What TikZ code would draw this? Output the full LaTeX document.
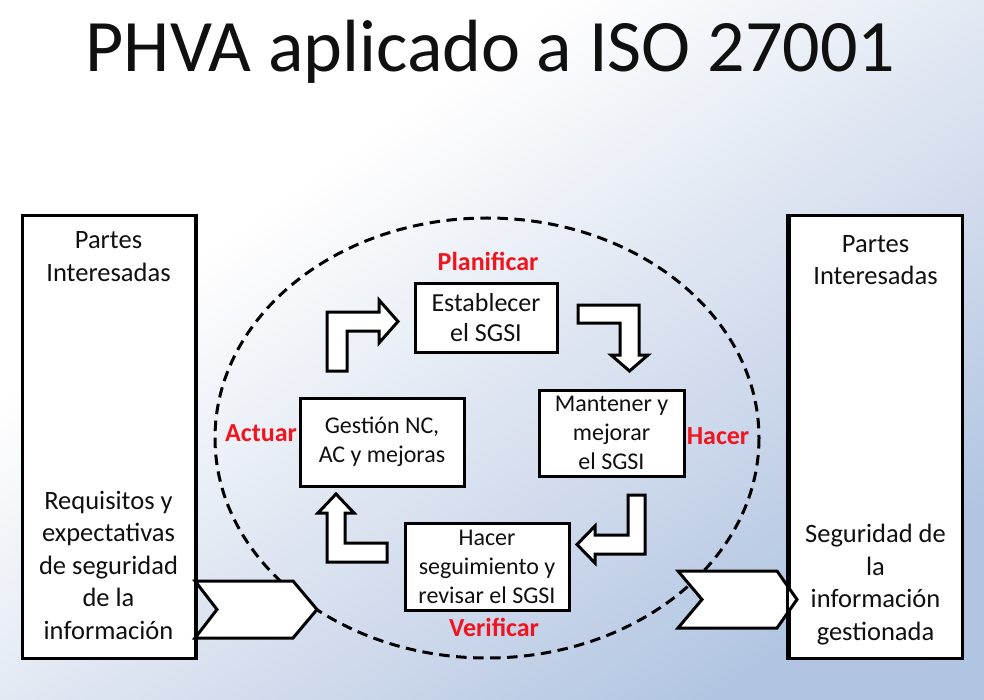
\documentclass[tikz,border=0pt]{standalone}
\usepackage{fontspec}
\setmainfont{Carlito}
\definecolor{labelred}{RGB}{240,20,30}
\definecolor{inktext}{RGB}{16,16,16}
\begin{document}
\begin{tikzpicture}[x=1pt,y=-1pt,
  frame/.style={draw=black, line width=3pt, fill=white},
  sidebox/.style={frame, inner sep=0pt, minimum width=173pt, minimum height=442pt},
  stagebox/.style={frame, inner sep=0pt, align=center, text=inktext,
    font=\fontsize{24}{29}\selectfont},
  sidetext/.style={align=center, text=inktext, font=\fontsize{26.5}{32.5}\selectfont},
  phase/.style={text=labelred, font=\fontsize{26}{30}\selectfont\bfseries},
  blockarrow/.style={draw=black, line width=3pt, fill=white, line join=miter},
  ring/.style={draw=black, line width=3pt, dash pattern=on 10.5pt off 6.5pt}
]
\useasboundingbox (0,0) rectangle (984,700);

% diagonal background wash, white at the upper left to pale blue at the lower right
\begin{scope}
  \clip (0,0) rectangle (984,700);
  \begin{scope}[rotate=-54.57]
    \foreach \i in {0,...,119}{
      \pgfmathsetmacro\u{\i*10+5}
      \pgfmathsetmacro\ca{max(0,min(1,(\u-330)/240))}
      \pgfmathsetmacro\cb{max(0,min(1,(\u-570)/230))}
      \pgfmathsetmacro\cc{max(0,min(1,(\u-800)/180))}
      \pgfmathsetmacro\cd{max(0,min(1,(\u-980)/200))}
      \pgfmathtruncatemacro\rch{255-27*\ca-27*\cb-23*\cc-2*\cd}
      \pgfmathtruncatemacro\gch{255-21*\ca-21*\cb-15*\cc-1*\cd}
      \pgfmathtruncatemacro\bch{255-11*\ca-10*\cb-7*\cc-1*\cd}
      \definecolor{stripcol}{RGB}{\rch,\gch,\bch}
      \fill[stripcol] (\i*10,-1600) rectangle (\i*10+11,1600);
    }
  \end{scope}
\end{scope}

% title
\node[anchor=base, text=inktext, font=\fontsize{74}{80}\selectfont] (title)
  at (490.5,72) {PHVA aplicado a ISO 27001};

% dashed cycle
\draw[ring] (487,438) ellipse [x radius=272, y radius=220];

% stakeholder boxes
\node[sidebox] (lbox) at (108.5,437) {};
\node[sidebox] (rbox) at (875.5,437) {};

% input and output chevrons
\draw[blockarrow] (195,581) -- (293,581) -- (317,609.5) -- (293,638) -- (195,638) -- (217,609.5) -- cycle;
\draw[blockarrow] (678,571) -- (777,571) -- (797,599.5) -- (777,628) -- (678,628) -- (702,599.5) -- cycle;
\draw[line width=3pt] (lbox.north east) -- (lbox.south east);
\draw[line width=3pt] (rbox.north west) -- (rbox.south west);

\node[sidetext] (ltop) at (108.5,256.5) {Partes\\Interesadas};
\node[sidetext] (lbot) at (108.5,565) {Requisitos y\\expectativas\\de seguridad\\de la\\información};
\node[sidetext] (rtop) at (875.5,260) {Partes\\Interesadas};
\node[sidetext] (rbot) at (875.5,584.5) {Seguridad de\\la\\información\\gestionada};

% the four stages
\node[stagebox, minimum width=142pt, minimum height=68pt, font=\fontsize{26}{30}\selectfont]
  (plan) at (486,318) {Establecer\\el SGSI};
\node[stagebox, minimum width=145pt, minimum height=86pt] (do) at (611.5,433) {Mantener y\\mejorar\\el SGSI};
\node[stagebox, minimum width=164pt, minimum height=87pt] (check) at (487,566.5) {Hacer\\seguimiento y\\revisar el SGSI};
\node[stagebox, minimum width=164pt, minimum height=88pt] (act) at (382,442) {Gestión NC,\\AC y mejoras};

% bent block arrows between the stages
\draw[blockarrow] (327,371) -- (327,312) -- (379,312) -- (379,300) -- (398,321.5)
  -- (379,343) -- (379,331) -- (347,331) -- (347,371) -- cycle;
\draw[blockarrow] (578,305) -- (639,305) -- (639,355) -- (648,355) -- (629.5,371)
  -- (611,355) -- (620,355) -- (620,323) -- (578,323) -- cycle;
\draw[blockarrow] (628,495) -- (645,495) -- (645,554) -- (595,554) -- (595,563)
  -- (577,544.5) -- (595,526) -- (595,535) -- (628,535) -- cycle;
\draw[blockarrow] (387,543) -- (387,562) -- (327,562) -- (327,513) -- (318,513)
  -- (336,494) -- (354,513) -- (345,513) -- (345,543) -- cycle;

% phase labels
\node[phase] (lplan) at (488,261) {Planificar};
\node[phase] (ldo) at (718,436) {Hacer};
\node[phase] (lact) at (261,433) {Actuar};
\node[phase] (lcheck) at (494,627) {Verificar};
\end{tikzpicture}
\end{document}
